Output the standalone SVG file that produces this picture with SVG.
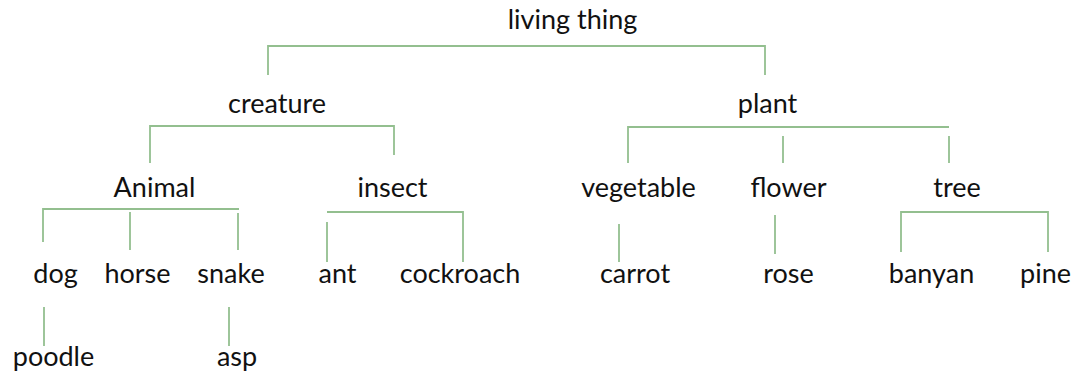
<svg xmlns="http://www.w3.org/2000/svg" width="1075" height="374" viewBox="0 0 1075 374">
<style>
text{font-family:Lato,"Open Sans","Liberation Sans",sans-serif;font-size:27px;fill:#111;text-anchor:middle}
.c path{fill:none;stroke:#93bf8f;stroke-width:1.8}
</style>
<rect width="1075" height="374" fill="#fff"/>
<g class="c" id="connectors">
<path d="M268 75V46H765V75"/>
<path d="M150 163V126H394V155"/>
<path d="M628 163V127H949"/>
<path d="M783 136V163"/>
<path d="M949 136V163"/>
<path d="M43 242V209H239"/>
<path d="M130 212V250"/>
<path d="M238 213V250"/>
<path d="M327 222V262"/>
<path d="M327 212H463V262"/>
<path d="M619 224V262"/>
<path d="M775 215V254"/>
<path d="M901 252V212H1048V252"/>
<path d="M44 307V346"/>
<path d="M229 307V346"/>
</g>
<g id="n-living"><text x="572.5" y="29">living thing</text></g>
<g id="n-creature"><text x="277" y="113">creature</text></g>
<g id="n-plant"><text x="767.5" y="113">plant</text></g>
<g id="n-animal"><text x="154.5" y="197">Animal</text></g>
<g id="n-insect"><text x="392.5" y="197">insect</text></g>
<g id="n-vegetable"><text x="638.5" y="197">vegetable</text></g>
<g id="n-flower"><text x="788.5" y="197">flower</text></g>
<g id="n-tree"><text x="957" y="197">tree</text></g>
<g id="n-dog"><text x="55.5" y="283">dog</text></g>
<g id="n-horse"><text x="137.5" y="283">horse</text></g>
<g id="n-snake"><text x="231" y="283">snake</text></g>
<g id="n-ant"><text x="337.5" y="283">ant</text></g>
<g id="n-cockroach"><text x="460" y="283">cockroach</text></g>
<g id="n-carrot"><text x="635" y="283">carrot</text></g>
<g id="n-rose"><text x="788.5" y="283">rose</text></g>
<g id="n-banyan"><text x="931.5" y="283">banyan</text></g>
<g id="n-pine"><text x="1045.5" y="283">pine</text></g>
<g id="n-poodle"><text x="53.5" y="366">poodle</text></g>
<g id="n-asp"><text x="237" y="366">asp</text></g>
</svg>
